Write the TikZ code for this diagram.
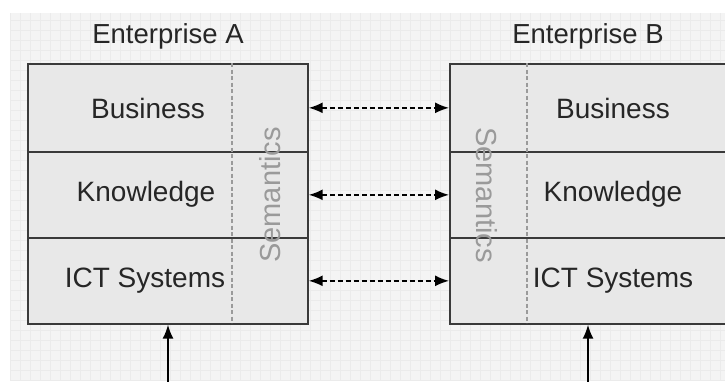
\documentclass[tikz,border=0pt]{standalone}
\usepackage{fontspec}
\setmainfont{Liberation Sans}
\usetikzlibrary{arrows.meta}
\definecolor{bgc}{HTML}{F4F4F4}
\definecolor{gridc}{HTML}{EBEBEB}
\definecolor{boxc}{HTML}{E8E8E8}
\definecolor{linec}{HTML}{3A3A3A}
\definecolor{txtc}{HTML}{262626}
\definecolor{semc}{HTML}{9A9A9A}
\begin{document}
\begin{tikzpicture}[x=1pt,y=-1pt,
  rowbox/.style={draw=linec, fill=boxc, line width=1.7pt, minimum width=280pt, minimum height=86pt, anchor=north west, inner sep=0pt},
  lbl/.style={text=txtc, font=\fontsize{28}{32}\selectfont, inner sep=0pt},
  title/.style={text=txtc, font=\fontsize{27.5}{32}\selectfont, inner sep=0pt},
  sem/.style={text=semc, font=\fontsize{29}{32}\selectfont, inner sep=0pt},
  divline/.style={draw=semc, dash pattern=on 4pt off 2.5pt, line width=1.1pt},
  link/.style={draw=black, dash pattern=on 5pt off 3pt, line width=1.7pt, {Latex[length=14pt,width=11pt]}-{Latex[length=14pt,width=11pt]}},
  uparrow/.style={draw=black, line width=1.7pt, -{Latex[length=14pt,width=11pt]}}
]
\useasboundingbox (0,0) rectangle (725,381);
\fill[bgc] (10,13) rectangle (725,381);
\draw[gridc, line width=0.6pt, step=10pt] (10,13) grid (725,381);

% Enterprise A
\node[title] (ta) at (168,36) {Enterprise A};
\node[rowbox, minimum height=88pt] (a1) at (27,63) {};
\node[rowbox] (a2) at (27,151) {};
\node[rowbox] (a3) at (27,237) {};
\draw[divline] (232,63) -- (232,323);
\node[lbl] (a1t) at (148,108) {Business};
\node[lbl] (a2t) at (146,194) {Knowledge};
\node[lbl] (a3t) at (145,281) {ICT Systems};
\node[sem, rotate=90] (asem) at (270,195) {Semantics};

% Enterprise B
\node[title] (tb) at (588,36) {Enterprise B};
\node[rowbox, minimum height=88pt] (b1) at (449,63) {};
\node[rowbox] (b2) at (449,151) {};
\node[rowbox] (b3) at (449,237) {};
\draw[divline] (527,63) -- (527,323);
\node[lbl] (b1t) at (613,108) {Business};
\node[lbl] (b2t) at (613,194) {Knowledge};
\node[lbl] (b3t) at (613,281) {ICT Systems};
\node[sem, rotate=-90] (bsem) at (487,195) {Semantics};

% links
\draw[link] (a1.east) -- (b1.west);
\draw[link] (a2.east) -- (b2.west);
\draw[link] (a3.east) -- (b3.west);

% up arrows
\coordinate (ua) at (168,385);
\coordinate (ub) at (588,385);
\draw[uparrow] (ua) -- (ua |- a3.south);
\draw[uparrow] (ub) -- (ub |- b3.south);
\end{tikzpicture}
\end{document}
